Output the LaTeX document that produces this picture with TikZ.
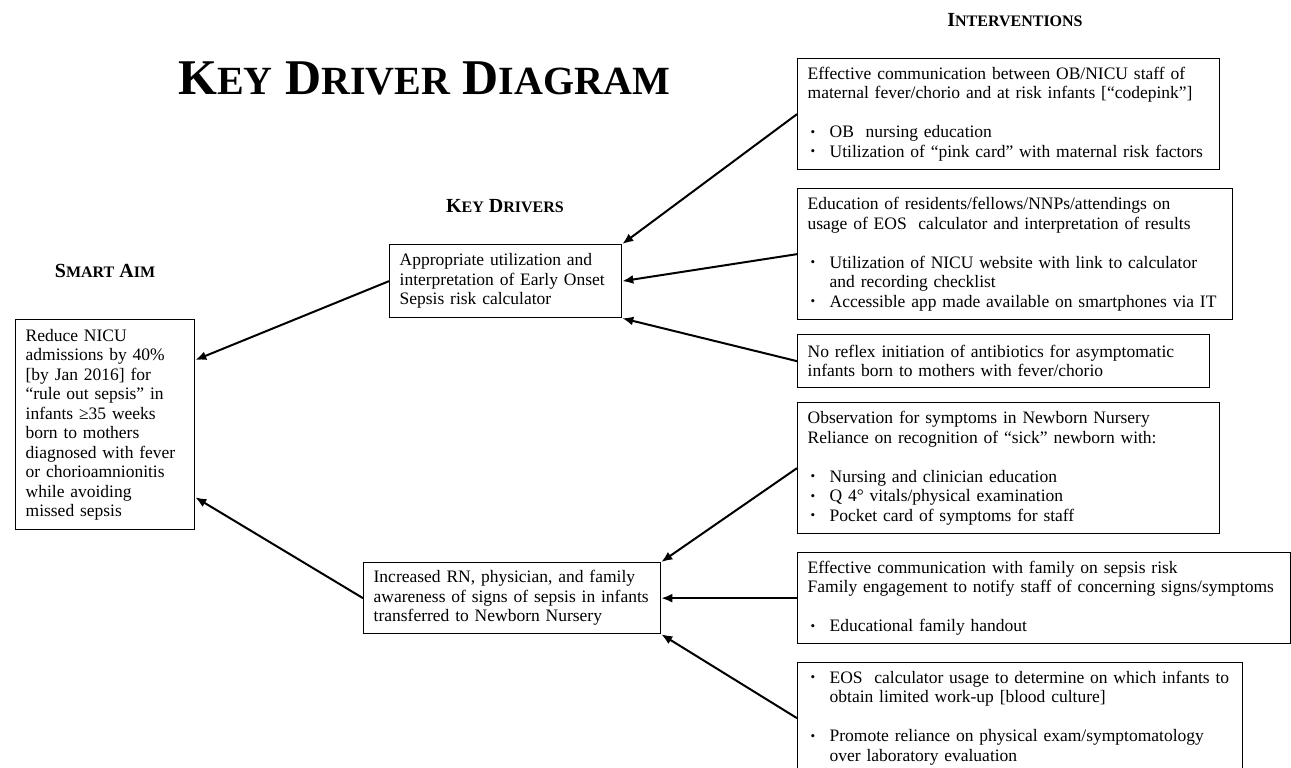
\documentclass[tikz,border=0pt]{standalone}
\usepackage{fontspec}
\setmainfont{Liberation Serif}
\usepackage{graphicx}
\usetikzlibrary{arrows.meta}

\newcommand{\bodyfont}{\fontsize{17.5}{19.5}\selectfont}
\newcommand{\fsc}[2]{#1\scalebox{0.8}{#2}}
\newcommand{\bul}{\makebox[22pt][l]{\hspace{3pt}\raisebox{0.2ex}{\scalebox{0.75}{\textbullet}}}}
\newcommand{\ind}{\hspace*{22pt}}

\tikzset{
  txtbox/.style={draw, line width=1.3pt, anchor=north west, align=left,
    inner xsep=10pt, inner ysep=0pt, font=\bodyfont},
  head/.style={anchor=base, font=\fontsize{20}{22}\selectfont\bfseries},
  link/.style={->, line width=2pt}
}

\begin{document}
\begin{tikzpicture}[x=1pt, y=-1pt, >={Latex[length=11pt,width=9pt]}]
    \useasboundingbox (0,0) rectangle (1291,768);

    % Headings
    \node[anchor=base, font=\fontsize{50}{50}\selectfont\bfseries] (title) at (424,95)
        {\fsc{K}{EY} \fsc{D}{RIVER} \fsc{D}{IAGRAM}};
    \node[head] (aimhead) at (105,277) {\fsc{S}{MART} \fsc{A}{IM}};
    \node[head] (kdhead) at (505,212) {\fsc{K}{EY} \fsc{D}{RIVERS}};
    \node[head] (ivhead) at (1015,27) {\fsc{I}{NTERVENTIONS}};

    % Smart aim
    \node[txtbox, text width=159pt, minimum height=210pt] (aim) at (15,319)
        {Reduce NICU\\ admissions by 40\%\\ {[by Jan 2016]} for\\ “rule out sepsis” in\\
         infants ≥35 weeks\\ born to mothers\\ diagnosed with fever\\ or chorioamnionitis\\
         while avoiding\\ missed sepsis};

    % Key drivers
    \node[txtbox, text width=212pt, minimum height=73pt] (kd1) at (389,244)
        {Appropriate utilization and\\ interpretation of Early Onset\\ Sepsis risk calculator};
    \node[txtbox, text width=277pt, minimum height=71pt] (kd2) at (363,562)
        {Increased RN, physician, and family\\ awareness of signs of sepsis in infants\\
         transferred to Newborn Nursery};

    % Interventions
    \node[txtbox, text width=402pt, minimum height=111pt] (iv1) at (797,58)
        {Effective communication between OB/NICU staff of\\
         maternal fever/chorio and at risk infants [“codepink”]\\[19.5pt]
         \bul OB~ nursing education\\
         \bul Utilization of “pink card” with maternal risk factors};
    \node[txtbox, text width=415pt, minimum height=131pt] (iv2) at (797,188)
        {Education of residents/fellows/NNPs/attendings on\\
         usage of EOS~ calculator and interpretation of results\\[19.5pt]
         \bul Utilization of NICU website with link to calculator\\
         \ind and recording checklist\\
         \bul Accessible app made available on smartphones via IT};
    \node[txtbox, text width=392pt, minimum height=53pt] (iv3) at (797,334)
        {No reflex initiation of antibiotics for asymptomatic\\
         infants born to mothers with fever/chorio};
    \node[txtbox, text width=402pt, minimum height=131pt] (iv4) at (797,402)
        {Observation for symptoms in Newborn Nursery\\
         Reliance on recognition of “sick” newborn with:\\[19.5pt]
         \bul Nursing and clinician education\\
         \bul Q 4° vitals/physical examination\\
         \bul Pocket card of symptoms for staff};
    \node[txtbox, text width=473pt, minimum height=91pt] (iv5) at (797,552)
        {Effective communication with family on sepsis risk\\
         Family engagement to notify staff of concerning signs/symptoms\\[19.5pt]
         \bul Educational family handout};
    \node[txtbox, text width=425pt, minimum height=111pt] (iv6) at (797,662)
        {\bul EOS~ calculator usage to determine on which infants to\\
         \ind obtain limited work-up [blood culture]\\[19.5pt]
         \bul Promote reliance on physical exam/symptomatology\\
         \ind over laboratory evaluation};

    % Arrows
    \draw[link] (iv1.west) -- (kd1.north east);
    \draw[link] (iv2.west) -- (kd1.east);
    \draw[link] (iv3.west) -- (kd1.south east);
    \draw[link] (iv4.west) -- (kd2.north east);
    \draw[link] (iv5.west) -- (kd2.east);
    \draw[link] (iv6.west) -- (kd2.south east);
    \draw[link] (kd1.west) -- ([yshift=-41pt]aim.north east);
    \draw[link] (kd2.west) -- ([yshift=33pt]aim.south east);
\end{tikzpicture}
\end{document}
